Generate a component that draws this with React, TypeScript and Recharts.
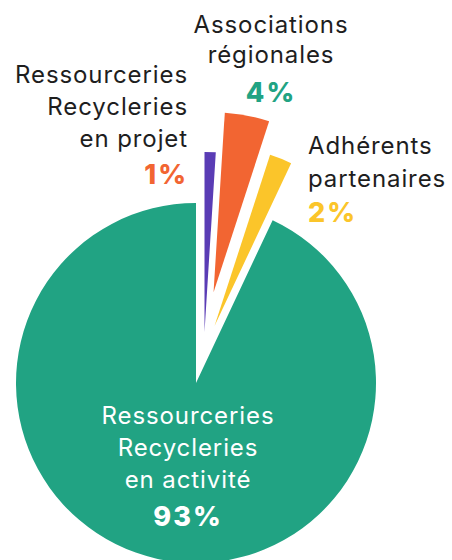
import { PieChart, Pie, Cell } from 'recharts';

// slices, clockwise from 12 o'clock
const categories = [
  'Ressourceries Recycleries en projet',
  'Associations régionales',
  'Adhérents partenaires',
  'Ressourceries Recycleries en activité',
];
const values = [1, 4, 2, 93];
const labelLines = [
  ['Ressourceries', 'Recycleries', 'en projet'],
  ['Associations', 'régionales'],
  ['Adhérents', 'partenaires'],
  ['Ressourceries', 'Recycleries', 'en activité'],
];

const colors = ['#5a3cb5', '#f26532', '#fbc52a', '#21a383'];
const pctColors = ['#f26532', '#21a383', '#fbc52a', '#ffffff'];
const textColors = ['#1e1e1e', '#1e1e1e', '#1e1e1e', '#ffffff'];

// exploded slices: each slice has its own apex
const centers = [
  [204.5, 332],
  [213.5, 292.5],
  [214.5, 326],
  [196, 383],
];

// label blocks: anchor x, first baseline, line gap, percent baseline
const labelPos: { x: number; y: number; gap: number; py: number; anchor: 'start' | 'middle' | 'end' }[] = [
  { x: 188, y: 83, gap: 32, py: 184, anchor: 'end' },
  { x: 271, y: 33, gap: 30, py: 102, anchor: 'middle' },
  { x: 308, y: 154, gap: 33, py: 222, anchor: 'start' },
  { x: 188, y: 424, gap: 32, py: 526, anchor: 'middle' },
];

const font = 'Inter, "Noto Sans", sans-serif';

export default function App() {
  const data = categories.map((name, i) => ({ name, value: values[i] }));

  return (
    <div style={{ position: 'absolute', left: 0, top: 0, width: 452, height: 560 }}>
      <PieChart width={452} height={560} margin={{ top: 0, right: 0, bottom: 0, left: 0 }}>
        {data.map((_, i) => (
          <Pie
            key={i}
            data={data}
            dataKey="value"
            nameKey="name"
            cx={centers[i][0]}
            cy={centers[i][1]}
            innerRadius={0}
            outerRadius={180}
            startAngle={90}
            endAngle={-270}
            stroke="none"
            isAnimationActive={false}
          >
            {data.map((d, j) => (
              <Cell key={d.name} fill={j === i ? colors[j] : 'transparent'} />
            ))}
          </Pie>
        ))}
      </PieChart>
      <svg
        width={452}
        height={560}
        style={{ position: 'absolute', left: 0, top: 0, pointerEvents: 'none' }}
      >
        {labelLines.map((lines, i) => {
          const p = labelPos[i];
          return (
            <g key={i} fontFamily={font} textAnchor={p.anchor}>
              {lines.map((line, k) => (
                <text key={k} x={p.x} y={p.y + k * p.gap} fontSize={24} letterSpacing={0.9} fill={textColors[i]}>
                  {line}
                </text>
              ))}
              <text x={p.x} y={p.py} fontSize={27} fontWeight={800} letterSpacing={2} fill={pctColors[i]}>
                {values[i]}%
              </text>
            </g>
          );
        })}
      </svg>
    </div>
  );
}
